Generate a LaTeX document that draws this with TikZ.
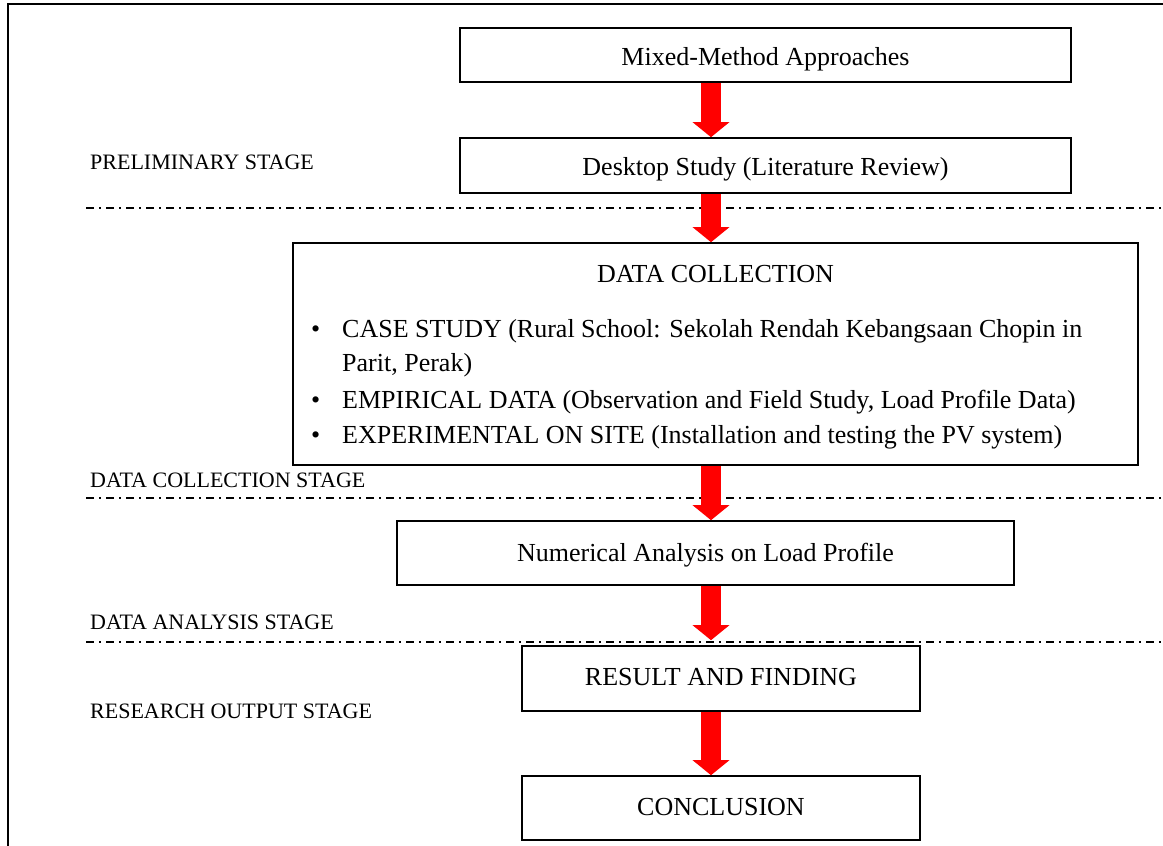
\documentclass[tikz,border=0pt]{standalone}
\usepackage{fontspec}
\setmainfont{Liberation Serif}
\usetikzlibrary{arrows.meta}
\begin{document}
\begin{tikzpicture}[x=1pt,y=-1pt,
  box/.style={draw, line width=1.6pt, inner sep=0pt, text depth=0pt, font=\fontsize{26}{30}\selectfont},
  lbl/.style={anchor=base west, inner sep=0pt, font=\fontsize{22}{26}\selectfont},
  txt/.style={anchor=base west, inner sep=0pt, font=\fontsize{26}{30}\selectfont},
  sep/.style={line width=1.2pt, dash pattern=on 8pt off 5pt on 2pt off 5pt},
  flow/.style={draw=red, line width=20pt, -{Triangle[width=36pt,length=15pt]}}
]
\useasboundingbox (0,0) rectangle (1163,846);
\fill[white] (0,0) rectangle (1163,846);
% frame
\draw[line width=2.5pt] (8,846) -- (8,4) -- (1163,4);
% separators
\draw[sep] (86,208) -- (1163,208);
\draw[sep] (86,498) -- (1163,498);
\draw[sep] (86,642) -- (1163,642);
% stage labels
\node[lbl] (l1) at (90,169) {PRELIMINARY STAGE};
\node[lbl] (l2) at (90,487) {DATA COLLECTION STAGE};
\node[lbl] (l3) at (90,629) {DATA ANALYSIS STAGE};
\node[lbl] (l4) at (90,718) {RESEARCH OUTPUT STAGE};
% boxes
\node[box, minimum width=611pt, minimum height=54pt] (m) at (765.5,55) {\raisebox{-2pt}{Mixed-Method Approaches}};
\node[box, minimum width=611pt, minimum height=55pt] (d) at (765.5,165.5) {\raisebox{-1pt}{Desktop Study (Literature Review)}};
\node[box, minimum width=845pt, minimum height=222pt] (dc) at (715.5,354) {};
\node[txt, anchor=base] (dct) at (715.5,282) {DATA COLLECTION};
\node[txt] (b1) at (311,337) {\textbullet};
\node[txt] (t1) at (342,337) {CASE STUDY (Rural School: Sekolah Rendah Kebangsaan Chopin in};
\node[txt] (t1b) at (342,371) {Parit, Perak)};
\node[txt] (b2) at (311,408) {\textbullet};
\node[txt] (t2) at (342,408) {EMPIRICAL DATA (Observation and Field Study, Load Profile Data)};
\node[txt] (b3) at (311,443) {\textbullet};
\node[txt] (t3) at (342,443) {EXPERIMENTAL ON SITE (Installation and testing the PV system)};
\node[box, minimum width=617pt, minimum height=64pt] (n) at (705.5,553) {\raisebox{2pt}{Numerical Analysis on Load Profile}};
\node[box, minimum width=398pt, minimum height=65pt] (r) at (721,678.5) {\raisebox{3pt}{RESULT AND FINDING}};
\node[box, minimum width=398pt, minimum height=64pt] (c) at (721,808) {\raisebox{3pt}{CONCLUSION}};
% arrows
\coordinate (ax) at (711,0);
\draw[flow] (m.south -| ax) -- (d.north -| ax);
\draw[flow] (d.south -| ax) -- (dc.north -| ax);
\draw[flow] (dc.south -| ax) -- (n.north -| ax);
\draw[flow, shorten >=5pt] (n.south -| ax) -- (r.north -| ax);
\draw[flow] (r.south -| ax) -- (c.north -| ax);
\end{tikzpicture}
\end{document}
